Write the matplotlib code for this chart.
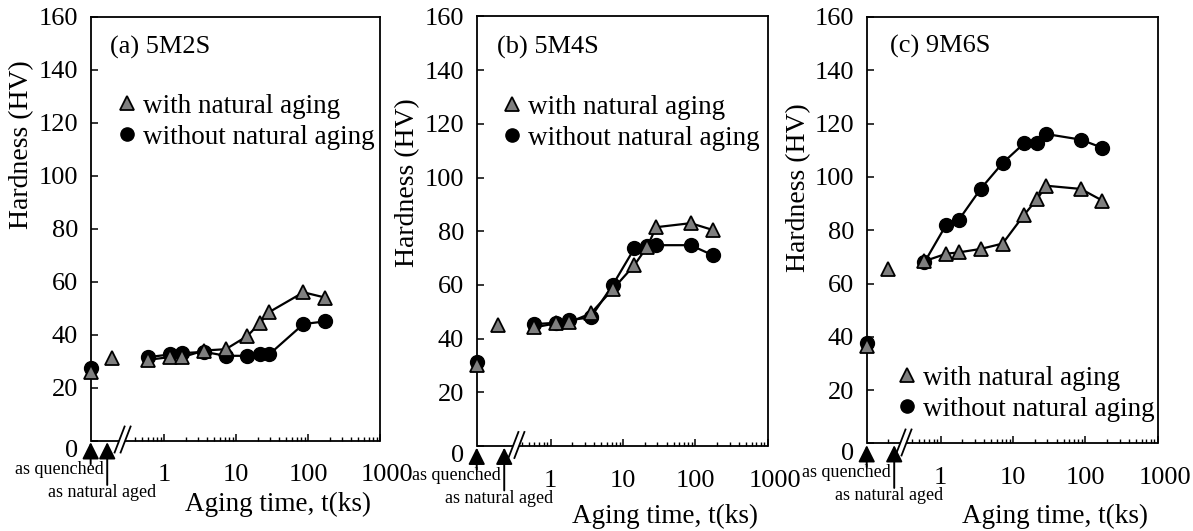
import numpy as np
import matplotlib
matplotlib.use('Agg')
import matplotlib.pyplot as plt
from matplotlib.lines import Line2D
from matplotlib.ticker import FixedLocator, FixedFormatter, NullFormatter
import matplotlib.transforms as mtransforms

plt.rcParams['font.family'] = ['Liberation Serif', 'DejaVu Serif']

# ---------------- data ----------------
aging_times = [0.6, 1.2, 1.8, 3.6, 7.2, 14.4, 21.6, 28.8, 86.4, 172.8]  # ks
x_major = [1, 10, 100, 1000]
x_major_labels = ['1', '10', '100', '1000']
x_minor = [0.4, 0.5, 0.6, 0.7, 0.8, 0.9, 2, 3, 4, 5, 6, 7, 8, 9,
           20, 30, 40, 50, 60, 70, 80, 90, 200, 300, 400, 500, 600, 700, 800, 900]
y_ticks = [0, 20, 40, 60, 80, 100, 120, 140, 160]
series_labels = ['with natural aging', 'without natural aging']
panel_titles = ['(a) 5M2S', '(b) 5M4S', '(c) 9M6S']

# (a) 5M2S
a_with_quenched, a_with_natural = 26, 31
a_with_aged = [30.5, 31.5, 31.5, 34, 34.5, 39.5, 44.5, 48.5, 56, 54]
a_without_quenched = 27.5
a_without_aged = [31.5, 32.5, 33, 33.5, 32, 32, 32.5, 32.5, 44, 45]

# (b) 5M4S
b_with_quenched, b_with_natural = 30, 45
b_with_aged = [44.2, 45.7, 46, 49.4, 58.3, 67.4, 74.2, 81.5, 83, 80.5]
b_without_quenched = 31.4
b_without_aged = [45.4, 45.9, 46.9, 47.9, 59.9, 73.6, 74.5, 74.8, 74.8, 71.1]

# (c) 9M6S
c_with_quenched, c_with_natural = 36.7, 65.5
c_with_aged = [68.4, 71.2, 71.7, 73, 75, 85.9, 91.7, 96.7, 95.5, 91.1]
c_without_quenched = 37.8
c_without_aged = [68, 82.1, 84, 95.6, 105.2, 112.7, 112.7, 116.1, 114, 110.9]

# positions of the two special states on the broken axis
QUENCH_POS = 10 ** -1.02
NATURAL_POS = 10 ** -0.73

W, H = 1193, 531
fig = plt.figure(figsize=(W / 100, H / 100), dpi=100)

panels = [
    dict(rect=[0.0760, 0.1704, 0.2425, 0.7976], title=panel_titles[0],
         wq=a_with_quenched, wn=a_with_natural, wa=a_with_aged,
         oq=a_without_quenched, oa=a_without_aged,
         arrow_nat=10 ** -0.79, brk=10 ** -0.625,
         leg=(0.098, 0.753), ttl=(0.067, 0.929), ylab=(-0.237, 0.698),
         xlab=(0.647, -0.152), nat_tick=False),
    dict(rect=[0.3996, 0.1601, 0.2439, 0.8089], title=panel_titles[1],
         wq=b_with_quenched, wn=b_with_natural, wa=b_with_aged,
         oq=b_without_quenched, oa=b_without_aged,
         arrow_nat=10 ** -0.64, brk=10 ** -0.52,
         leg=(0.094, 0.753), ttl=(0.07, 0.927), ylab=(-0.236, 0.612),
         xlab=(0.647, -0.163), nat_tick=False),
    dict(rect=[0.7265, 0.1648, 0.2439, 0.8032], title=panel_titles[2],
         wq=c_with_quenched, wn=c_with_natural, wa=c_with_aged,
         oq=c_without_quenched, oa=c_without_aged,
         arrow_nat=10 ** -0.64, brk=10 ** -0.56,
         leg=(0.109, 0.117), ttl=(0.080, 0.930), ylab=(-0.233, 0.599),
         xlab=(0.647, -0.170), nat_tick=True),
]

tri_kw = dict(marker='^', ms=10.5, mfc='#7f7f7f', mec='k', mew=1.3)
cir_kw = dict(marker='o', ms=10, mfc='k', mec='k', mew=1.0)

for cfg in panels:
    ax = fig.add_axes(cfg['rect'])
    ax.set_xscale('log')
    ax.set_xlim(QUENCH_POS, 1000)
    ax.set_ylim(0, 160)

    # lines + markers (circles first, triangles on top)
    ax.plot(aging_times, cfg['oa'], color='k', lw=1.6, zorder=2, clip_on=False, **cir_kw)
    ax.plot([QUENCH_POS], [cfg['oq']], ls='none', zorder=3, clip_on=False, **cir_kw)
    ax.plot(aging_times, cfg['wa'], color='k', lw=1.6, zorder=4, clip_on=False, **tri_kw)
    ax.plot([QUENCH_POS, NATURAL_POS], [cfg['wq'], cfg['wn']], ls='none',
            zorder=5, clip_on=False, **tri_kw)

    # spines
    for s in ['top', 'right', 'left']:
        ax.spines[s].set_linewidth(1.3)
    ax.spines['bottom'].set_visible(False)

    # ticks
    ax.xaxis.set_major_locator(FixedLocator(x_major))
    ax.xaxis.set_major_formatter(FixedFormatter(x_major_labels))
    minors = list(x_minor) + ([NATURAL_POS] if cfg['nat_tick'] else [])
    ax.xaxis.set_minor_locator(FixedLocator(minors))
    ax.xaxis.set_minor_formatter(NullFormatter())
    ax.set_yticks(y_ticks)
    ax.tick_params(axis='x', which='major', direction='in', length=5, width=1.1,
                   labelsize=19, pad=17, top=False)
    ax.tick_params(axis='x', which='minor', direction='in', length=3, width=1.0, top=False)
    ax.tick_params(axis='y', which='major', direction='in', length=5, width=1.1,
                   labelsize=19, pad=9, right=False)

    # shift "1000" label right and "0" label down
    xt = ax.xaxis.get_major_ticks()
    lab = xt[-1].label1
    lab.set_transform(lab.get_transform() +
                      mtransforms.ScaledTranslation(7 / 100, 0, fig.dpi_scale_trans))
    yt = ax.yaxis.get_major_ticks()
    lab0 = yt[0].label1
    lab0.set_transform(lab0.get_transform() +
                       mtransforms.ScaledTranslation(0, -8 / 100, fig.dpi_scale_trans))

    # broken bottom spine with "//"
    pos = ax.get_position()
    axw = pos.width * W
    axh = pos.height * H
    xb = ax.transAxes.inverted().transform(ax.transData.transform((cfg['brk'], 1)))[0]
    gap = 6 / axw
    dxp, dy0, dy1 = 5 / axw, -12 / axh, 14 / axh
    ax.add_line(Line2D([0, xb], [0, 0], transform=ax.transAxes, color='k',
                       lw=1.3, clip_on=False, solid_capstyle='butt'))
    ax.add_line(Line2D([xb + gap, 1], [0, 0], transform=ax.transAxes, color='k',
                       lw=1.3, clip_on=False, solid_capstyle='butt'))
    for xc in (xb, xb + gap):
        ax.add_line(Line2D([xc - dxp * 0.9, xc + dxp * 1.1], [dy0, dy1],
                           transform=ax.transAxes, color='k', lw=1.3, clip_on=False))

    # arrows below the axis
    blend = ax.get_xaxis_transform()
    arrow_kw = dict(arrowstyle='-|>,head_length=0.6,head_width=0.3',
                    color='k', lw=1.4, shrinkA=0, shrinkB=1.2, mutation_scale=17)
    ax.annotate('', xy=(QUENCH_POS, 0), xycoords=blend, xytext=(0, -17),
                textcoords='offset points', arrowprops=arrow_kw, annotation_clip=False)
    ax.annotate('', xy=(cfg['arrow_nat'], 0), xycoords=blend, xytext=(0, -32),
                textcoords='offset points', arrowprops=arrow_kw, annotation_clip=False)
    ax.annotate('as quenched', xy=(cfg['arrow_nat'], 0), xycoords=blend,
                xytext=(-2.5, -21), textcoords='offset points', ha='right',
                va='center', fontsize=13, annotation_clip=False)
    ax.annotate('as natural aged', xy=(cfg['arrow_nat'], 0), xycoords=blend,
                xytext=(-4, -37.5), textcoords='offset points', ha='center',
                va='center', fontsize=13, annotation_clip=False)

    # labels
    ax.set_ylabel('Hardness (HV)', fontsize=20, va='center')
    ax.yaxis.set_label_coords(*cfg['ylab'])
    ax.set_xlabel('Aging time, t(ks)', fontsize=19.5, va='center')
    ax.xaxis.set_label_coords(*cfg['xlab'])
    ax.text(cfg['ttl'][0], cfg['ttl'][1], cfg['title'], transform=ax.transAxes,
            fontsize=19, ha='left', va='center')

    # legend
    h_tri = Line2D([], [], ls='none', **tri_kw)
    h_cir = Line2D([], [], ls='none', **cir_kw)
    ax.legend([h_tri, h_cir], series_labels, loc='center left',
              bbox_to_anchor=cfg['leg'], frameon=False, fontsize=19.5,
              handlelength=0.6, handletextpad=0.3, labelspacing=0.22,
              borderpad=0, borderaxespad=0, markerscale=0.95)

fig.savefig('out.png', dpi=100)
